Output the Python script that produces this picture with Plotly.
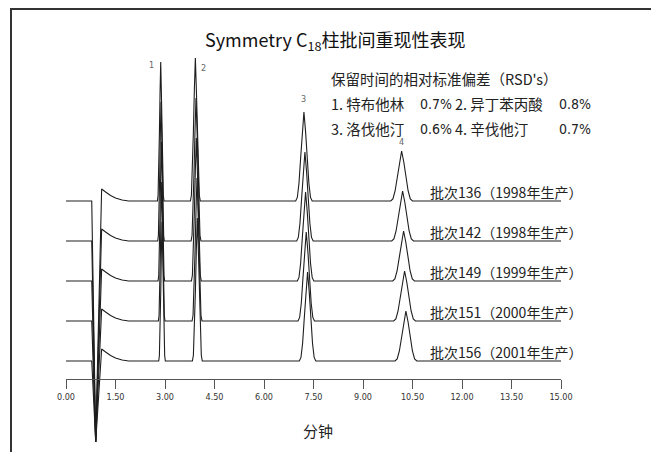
import plotly.graph_objects as go

# ---------------- data ----------------
BATCH_LABELS = ["批次136（1998年生产）", "批次142（1998年生产）", "批次149（1999年生产）",
                "批次151（2000年生产）", "批次156（2001年生产）"]

# retention times (min) of peaks 1-4 for each batch
RT_136 = [2.87, 3.92, 7.21, 10.17]
RT_142 = [2.88, 3.94, 7.24, 10.20]
RT_149 = [2.89, 3.95, 7.26, 10.23]
RT_151 = [2.90, 3.97, 7.28, 10.26]
RT_156 = [2.91, 3.98, 7.32, 10.30]
RETENTION = [RT_136, RT_142, RT_149, RT_151, RT_156]

PEAK_NAMES = ["1", "2", "3", "4"]
PEAK_HEIGHT = [139, 143, 89, 50]          # signal units
PEAK_HALF_WIDTH = [0.10, 0.15, 0.25, 0.33]  # min

# peak profile (fraction of half width, fraction of height)
PEAK_SHAPE_X = [-1.0, -0.8, -0.6, -0.4, -0.2, 0.0, 0.2, 0.4, 0.6, 0.8, 1.0]
PEAK_SHAPE_Y = [0.0, 0.04, 0.20, 0.48, 0.78, 1.0, 0.78, 0.48, 0.20, 0.04, 0.0]

# solvent front disturbance (time, signal); the dip depth is per batch
FRONT_T = [0.78, 0.90, 1.08, 1.20, 1.35, 1.50, 1.70, 1.90]
FRONT_Y = [0.0, None, 12.0, 9.0, 5.5, 3.0, 1.0, 0.0]
DIP_DEPTH = [-241, -201, -161, -121, -81]

RUN_END = 15.0
TICK_VALS = [0, 1.5, 3, 4.5, 6, 7.5, 9, 10.5, 12, 13.5, 15]
TICK_TEXT = ["0.00", "1.50", "3.00", "4.50", "6.00", "7.50", "9.00",
             "10.50", "12.00", "13.50", "15.00"]

TITLE = "Symmetry C<sub>18</sub>柱批间重现性表现"
X_TITLE = "分钟"
RSD_HEADER = "保留时间的相对标准偏差（RSD's）"
RSD_NAMES = ["1. 特布他林", "2. 异丁苯丙酸", "3. 洛伐他汀", "4. 辛伐他汀"]
RSD_VALUES = ["0.7%", "0.8%", "0.6%", "0.7%"]

# ---------------- layout constants ----------------
BODY = 8                     # browser default body margin
W, H = 659 - BODY, 452 - BODY
X0_PAGE, X15_PAGE = 66, 561  # page pixels of 0 and 15 min
L = X0_PAGE - BODY
PW = X15_PAGE - X0_PAGE
R = W - L - PW
BASE_PAGE = 361              # page pixel of the lowest baseline
OFFSET_STEP = 40
CJK = "Noto Sans CJK SC, Noto Sans, sans-serif"
NARROW = "Liberation Sans Narrow, DejaVu Sans Condensed, Arial Narrow, sans-serif"
LINE_COLOR = "#1e1e1e"
TEXT_COLOR = "#222"


def px(x):
    return (x - BODY - L) / PW


def py(y):
    return (H - (y - BODY)) / H


fig = go.Figure()

n = len(BATCH_LABELS)
for i, label in enumerate(BATCH_LABELS):
    offset = (n - 1 - i) * OFFSET_STEP
    pts = [(0.0, 0.0)]
    for t, v in zip(FRONT_T, FRONT_Y):
        pts.append((t, DIP_DEPTH[i] if v is None else v))
    for rt, h, w in zip(RETENTION[i], PEAK_HEIGHT, PEAK_HALF_WIDTH):
        for sx, sy in zip(PEAK_SHAPE_X, PEAK_SHAPE_Y):
            pts.append((rt + sx * w, sy * h))
    pts.append((RUN_END, 0.0))
    pts.sort(key=lambda p: p[0])
    fig.add_trace(go.Scatter(
        x=[p[0] for p in pts], y=[p[1] + offset for p in pts],
        mode="lines", line=dict(color=LINE_COLOR, width=1.1),
        showlegend=False, hoverinfo="skip", name=label))
    fig.add_annotation(x=px(428), y=offset + 9.5, xref="paper", yref="y",
                       text=label, showarrow=False, xanchor="left", yanchor="middle",
                       font=dict(family=CJK, size=14, color=TEXT_COLOR))

# peak number labels (next to / above top trace)
top_offset = (n - 1) * OFFSET_STEP
peak_label_dx = [-9, 8, 0, 0]
peak_label_dy = [-10, -17, 6, 2]
for k, name in enumerate(PEAK_NAMES):
    fig.add_annotation(x=RETENTION[0][k], y=top_offset + PEAK_HEIGHT[k], xref="x", yref="y",
                       text=name, showarrow=False, xanchor="center", yanchor="bottom",
                       xshift=peak_label_dx[k], yshift=peak_label_dy[k],
                       font=dict(family=NARROW, size=9, color="#666"))

# title
fig.add_annotation(x=px(335), y=py(40), xref="paper", yref="paper", text=TITLE,
                   showarrow=False, xanchor="center", yanchor="middle",
                   font=dict(family=CJK, size=18, color="#111"))
# x axis title
fig.add_annotation(x=px(318), y=py(430), xref="paper", yref="paper", text=X_TITLE,
                   showarrow=False, xanchor="center", yanchor="middle",
                   font=dict(family=CJK, size=15, color=TEXT_COLOR))

# RSD block
fig.add_annotation(x=px(329), y=py(78), xref="paper", yref="paper", text=RSD_HEADER,
                   showarrow=False, xanchor="left", yanchor="middle",
                   font=dict(family=CJK, size=14.5, color=TEXT_COLOR))
name_x = [329, 453, 329, 453]
val_x = [418, 557, 418, 557]
row_y = [103, 103, 128, 128]
for k in range(4):
    fig.add_annotation(x=px(name_x[k]), y=py(row_y[k]), xref="paper", yref="paper",
                       text=RSD_NAMES[k], showarrow=False, xanchor="left", yanchor="middle",
                       font=dict(family=CJK, size=14.5, color=TEXT_COLOR))
    fig.add_annotation(x=px(val_x[k]), y=py(row_y[k] + 1), xref="paper", yref="paper",
                       text=RSD_VALUES[k], showarrow=False, xanchor="left", yanchor="middle",
                       font=dict(family=NARROW, size=14, color=TEXT_COLOR))

# frame (top and left edges)
fig.add_shape(type="line", xref="paper", yref="paper", x0=px(11), x1=px(670),
              y0=py(9), y1=py(9), line=dict(color="#333", width=2))
fig.add_shape(type="line", xref="paper", yref="paper", x0=px(11), x1=px(11),
              y0=py(8), y1=py(460), line=dict(color="#333", width=2))

fig.update_layout(
    width=W, height=H, margin=dict(l=L, r=R, t=0, b=0, pad=0),
    paper_bgcolor="white", plot_bgcolor="white",
    xaxis=dict(range=[0, 15], tickvals=TICK_VALS, ticktext=TICK_TEXT,
               showline=True, linecolor="#555", linewidth=1,
               ticks="outside", ticklen=9, tickcolor="#555", tickwidth=1,
               showgrid=False, zeroline=False, anchor="free",
               position=py(379),
               tickfont=dict(family=NARROW, size=9, color="#333")),
    yaxis=dict(range=[-(H - (BASE_PAGE - BODY)), BASE_PAGE - BODY],
               visible=False, showgrid=False, zeroline=False),
)

fig.write_html("out.html")
